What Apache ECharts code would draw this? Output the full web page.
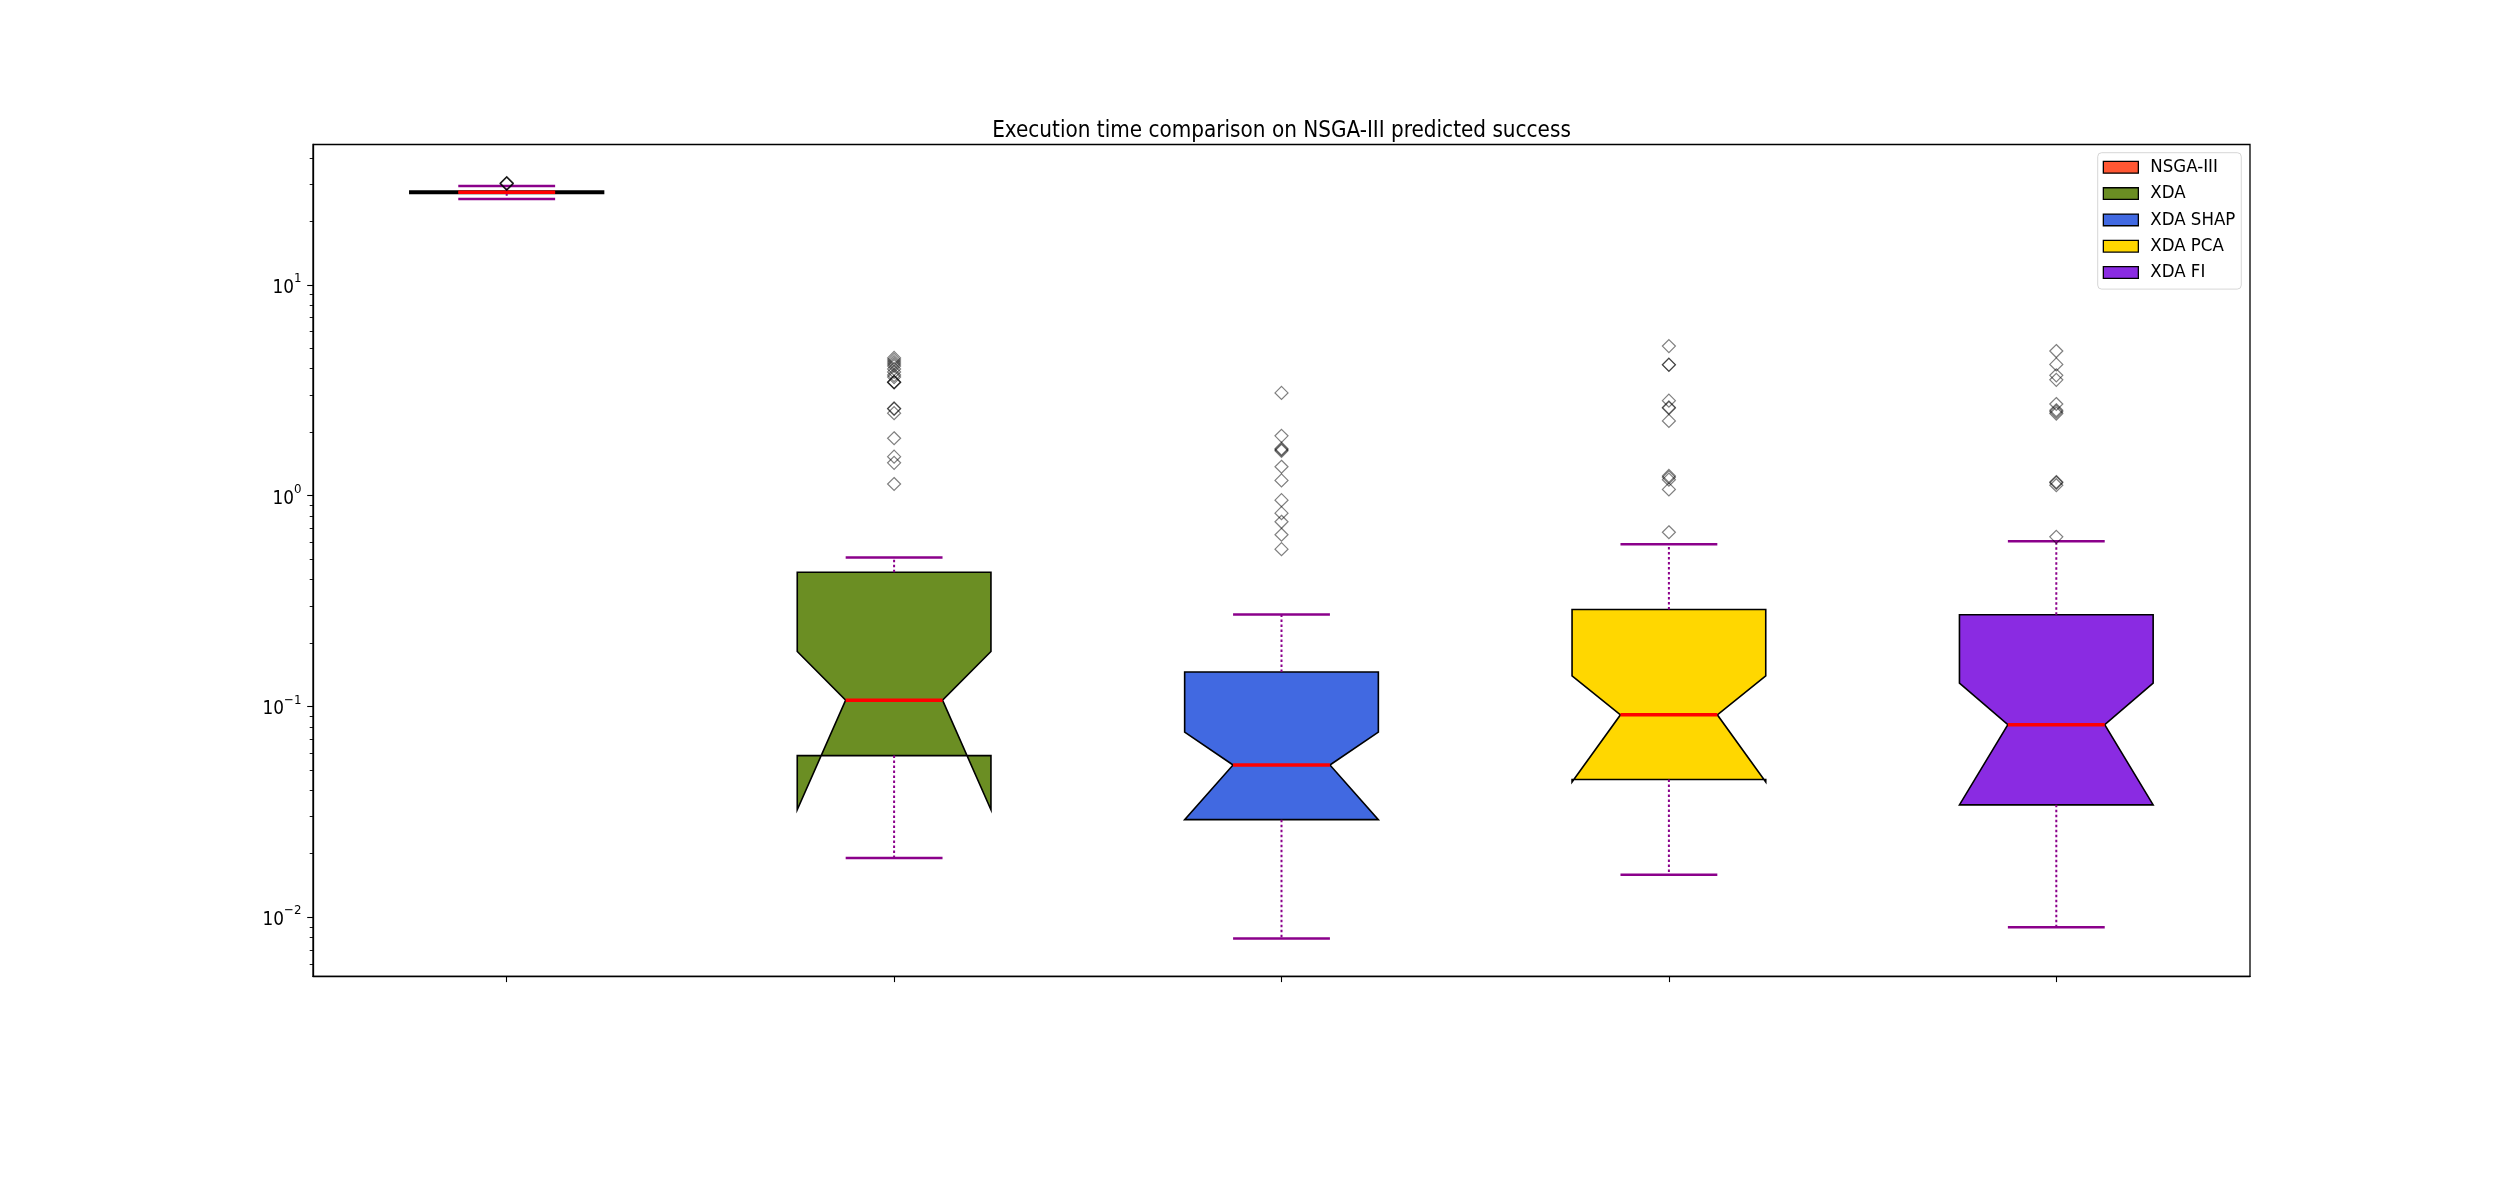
<!DOCTYPE html>
<html>
<head>
<meta charset="utf-8">
<script src="https://cdn.jsdelivr.net/npm/echarts@6/dist/echarts.min.js"></script>
<style>
html,body{margin:0;padding:0;background:#fff;}
#chart{width:2500px;height:1200px;}
</style>
</head>
<body>
<div id="chart"></div>
<script>
// ---- data ----
const categories = ['NSGA-III', 'XDA', 'XDA SHAP', 'XDA PCA', 'XDA FI'];
const whiskerLow  = [25.5, 0.0191, 0.00791, 0.0159, 0.00895];
const q1          = [27.15, 0.0584, 0.0290, 0.0450, 0.0341];
const notchLow    = [27.45, 0.0323, 0.0290, 0.0438, 0.0341];
const median      = [27.5, 0.107, 0.0527, 0.0912, 0.0818];
const notchHigh   = [27.55, 0.182, 0.0755, 0.1397, 0.129];
const q3          = [27.85, 0.433, 0.1455, 0.288, 0.272];
const whiskerHigh = [29.4, 0.509, 0.273, 0.587, 0.607];

const outliersNSGA = [30.1, 30.2, 30.3, 30.4];
const outliersXDA = [4.50, 4.40, 4.30, 4.21, 4.12, 3.99, 3.86, 3.73, 3.65, 3.46, 3.45, 3.44,
                     2.59, 2.58, 2.46, 1.87, 1.53, 1.43, 1.135];
const outliersSHAP = [3.07, 1.92, 1.67, 1.65, 1.63, 1.37, 1.18, 0.951, 0.825, 0.751, 0.652, 0.557];
const outliersPCA = [5.12, 4.18, 4.17, 2.82, 2.62, 2.60, 2.26, 1.24, 1.22, 1.19, 1.07, 0.67];
const outliersFI = [4.85, 4.19, 3.72, 3.54, 2.72, 2.54, 2.50, 2.45, 1.16, 1.15, 1.12, 0.637];
const outliers = [outliersNSGA, outliersXDA, outliersSHAP, outliersPCA, outliersFI];

const yTickValues = [0.01, 0.1, 1, 10];
const yTickBases = ['10', '10', '10', '10'];
const yTickExponents = ['\u22122', '\u22121', '0', '1'];
const yMinorTickValues = [0.006, 0.007, 0.008, 0.009,
                          0.02, 0.03, 0.04, 0.05, 0.06, 0.07, 0.08, 0.09,
                          0.2, 0.3, 0.4, 0.5, 0.6, 0.7, 0.8, 0.9,
                          2, 3, 4, 5, 6, 7, 8, 9,
                          20, 30, 40];
const yMin = 0.00524;
const yMax = 46.3;
const titleText = 'Execution time comparison on NSGA-III predicted success';

// ---- styles ----
const boxColors = ['#FF5733', '#6B8E23', '#4169E1', '#FFD700', '#8A2BE2'];
const whiskerColor = '#8B008B';
const medianColor = '#FF0000';

// font choice: the reference text is narrow for its height; prefer a condensed DejaVu if present
const mctx = document.createElement('canvas').getContext('2d');
function measure(text, font) { mctx.font = font; return mctx.measureText(text).width; }
function hasFont(fam) {
  const s = 'Execution time comparison ABCDEFGHIJ 0123456789';
  return measure(s, '100px "' + fam + '", monospace') !== measure(s, '100px monospace') ||
         measure(s, '100px "' + fam + '", serif') !== measure(s, '100px serif');
}
const FONT = hasFont('DejaVu Sans Condensed') ? 'DejaVu Sans Condensed' : 'DejaVu Sans';
function sizeFor(text, targetW) { return 100 * targetW / measure(text, '100px "' + FONT + '"'); }
const titleSize = sizeFor(titleText, 579);
const legendSize = sizeFor('XDA SHAP', 85);
const tickSize = Math.max(16.7, sizeFor('10', 21.5));
const supSize = tickSize * 0.7;

function renderBox(params, api) {
  const idx = api.value(0);
  const ref = api.value(4);
  const band = api.coord([1, ref])[0] - api.coord([0, ref])[0];
  const xc = api.coord([idx, ref])[0];
  const hw = band * 0.25, cw = band * 0.125;
  const y = i => api.coord([idx, api.value(i)])[1];
  const yW0 = y(1), yQ1 = y(2), yN0 = y(3), yMed = y(4), yN1 = y(5), yQ3 = y(6), yW1 = y(7);
  const color = boxColors[idx];
  return {
    type: 'group',
    children: [
      {
        type: 'polygon',
        shape: { points: [
          [xc - hw, yQ1], [xc + hw, yQ1], [xc + hw, yN0], [xc + cw, yMed], [xc + hw, yN1],
          [xc + hw, yQ3], [xc - hw, yQ3], [xc - hw, yN1], [xc - cw, yMed], [xc - hw, yN0]
        ] },
        style: { fill: color, stroke: '#000', lineWidth: 1.6, lineJoin: 'miter' }
      },
      { type: 'line', shape: { x1: xc, y1: yQ1, x2: xc, y2: yW0 },
        style: { stroke: whiskerColor, lineWidth: 2, lineDash: [2.5, 2.5] } },
      { type: 'line', shape: { x1: xc, y1: yQ3, x2: xc, y2: yW1 },
        style: { stroke: whiskerColor, lineWidth: 2, lineDash: [2.5, 2.5] } },
      { type: 'line', shape: { x1: xc - cw, y1: yW0, x2: xc + cw, y2: yW0 },
        style: { stroke: whiskerColor, lineWidth: 2.5 } },
      { type: 'line', shape: { x1: xc - cw, y1: yW1, x2: xc + cw, y2: yW1 },
        style: { stroke: whiskerColor, lineWidth: 2.5 } },
      { type: 'line', shape: { x1: xc - cw, y1: yMed, x2: xc + cw, y2: yMed },
        style: { stroke: medianColor, lineWidth: 3.5 } }
    ]
  };
}

const series = [];
categories.forEach((c, k) => {
  series.push({
    name: c,
    type: 'custom',
    renderItem: renderBox,
    xAxisIndex: 0,
    yAxisIndex: 0,
    encode: { x: 0, y: [1, 2, 3, 4, 5, 6, 7] },
    data: [[k, whiskerLow[k], q1[k], notchLow[k], median[k], notchHigh[k], q3[k], whiskerHigh[k]]],
    itemStyle: { color: boxColors[k] },
    z: 2,
    silent: true
  });
});
categories.forEach((c, k) => {
  series.push({
    name: 'outliers ' + c,
    type: 'scatter',
    xAxisIndex: 0,
    yAxisIndex: 0,
    symbol: 'diamond',
    symbolSize: 13,
    itemStyle: { color: 'rgba(0,0,0,0)', borderColor: 'rgba(0,0,0,0.5)', borderWidth: 1.2, opacity: 1 },
    data: outliers[k].map(v => [k, v]),
    z: 3,
    silent: true
  });
});

const chart = echarts.init(document.getElementById('chart'), null, { renderer: 'canvas' });
chart.setOption({
  animation: false,
  backgroundColor: '#fff',
  graphic: [{
    type: 'text',
    x: 1281.5,
    y: 131,
    style: { text: titleText, font: titleSize.toFixed(2) + 'px "' + FONT + '"', fill: '#000',
             textAlign: 'center', textVerticalAlign: 'middle' }
  }],
  grid: {
    left: 313, right: 250, top: 144.5, bottom: 223.7,
    show: true, borderColor: '#000', borderWidth: 1.3, backgroundColor: 'rgba(0,0,0,0)',
    containLabel: false, outerBoundsMode: 'none'
  },
  legend: {
    orient: 'vertical',
    left: 2097.7,
    top: 152.7,
    padding: [14.6 - legendSize / 2, 6, 16.6 - legendSize / 2, 5],
    itemWidth: 35,
    itemHeight: 11.7,
    itemGap: 26.3 - legendSize,
    borderColor: 'rgba(204,204,204,0.8)',
    borderWidth: 1,
    borderRadius: 4,
    backgroundColor: 'rgba(255,255,255,0.8)',
    textStyle: { fontFamily: FONT, fontSize: legendSize, lineHeight: legendSize, color: '#000', padding: [0, 0, 0, 7] },
    selectedMode: false,
    data: categories.map((c, i) => ({
      name: c, icon: 'rect',
      itemStyle: { color: boxColors[i], borderColor: '#000', borderWidth: 1.3 }
    }))
  },
  xAxis: {
    type: 'category',
    data: categories,
    boundaryGap: true,
    axisLine: { show: true, lineStyle: { color: '#000', width: 1.3 } },
    axisTick: { show: true, alignWithLabel: true, length: 5.8, lineStyle: { color: '#000', width: 1.1 } },
    axisLabel: { show: false },
    splitLine: { show: false }
  },
  yAxis: [{
    type: 'log',
    logBase: 10,
    min: yMin,
    max: yMax,
    axisLine: { show: true, lineStyle: { color: '#000', width: 1.3 } },
    axisTick: { show: true, length: 5.8, lineStyle: { color: '#000', width: 1.1 }, customValues: yTickValues },
    minorTick: { show: false },
    axisLabel: {
      show: true,
      customValues: yTickValues,
      margin: 11.6,
      color: '#000',
      formatter: function (v) {
        for (let i = 0; i < yTickValues.length; i++) {
          if (Math.abs(Math.log10(v) - Math.log10(yTickValues[i])) < 1e-6) {
            return '{b|' + yTickBases[i] + '}{s|' + yTickExponents[i] + '}';
          }
        }
        return '';
      },
      rich: {
        b: { fontFamily: FONT, fontSize: tickSize, lineHeight: tickSize * 1.35, color: '#000', verticalAlign: 'bottom' },
        s: { fontFamily: FONT, fontSize: supSize, lineHeight: supSize, color: '#000', verticalAlign: 'top' }
      }
    },
    splitLine: { show: false }
  }, {
    type: 'log',
    logBase: 10,
    min: yMin,
    max: yMax,
    position: 'left',
    offset: 0,
    axisLine: { show: false },
    axisTick: { show: true, length: 3.3, lineStyle: { color: '#000', width: 0.9 }, customValues: yMinorTickValues },
    axisLabel: { show: false },
    splitLine: { show: false }
  }],
  series: series
});
</script>
</body>
</html>
